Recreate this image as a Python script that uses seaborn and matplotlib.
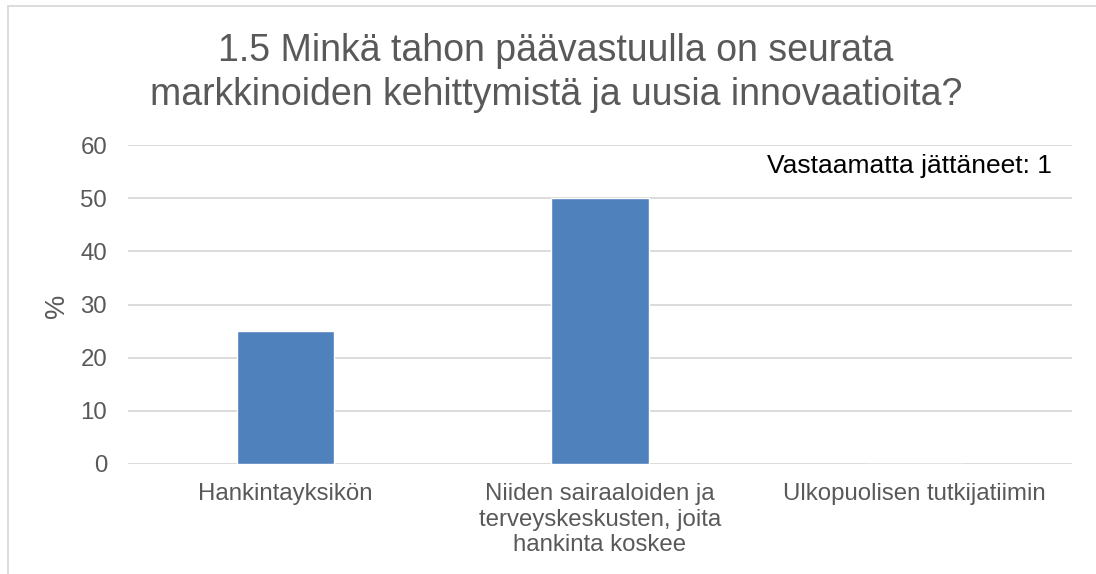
import matplotlib
matplotlib.use("Agg")
import matplotlib.pyplot as plt
import seaborn as sns
import pandas as pd
from matplotlib.lines import Line2D

categories = ["Hankintayksikön",
              "Niiden sairaaloiden ja\nterveyskeskusten, joita\nhankinta koskee",
              "Ulkopuolisen tutkijatiimin"]
values = [25, 50, 0]
y_ticks = [0, 10, 20, 30, 40, 50, 60]
title = "1.5 Minkä tahon päävastuulla on seurata\nmarkkinoiden kehittymistä ja uusia innovaatioita?"
note = "Vastaamatta jättäneet: 1"
y_label = "%"

sns.set_theme(style="white")
plt.rcParams['font.family'] = ['Liberation Sans', 'DejaVu Sans']

W, H = 1096, 574
fig = plt.figure(figsize=(W / 100, H / 100), dpi=100)
fig.subplots_adjust(left=128 / W, right=1072 / W, top=1 - 145 / H, bottom=1 - 464 / H)
ax = fig.add_subplot(111)

df = pd.DataFrame({"cat": categories, "val": values})
sns.barplot(data=df, x="cat", y="val", color="#4F81BD", width=0.31,
            saturation=1, ax=ax, zorder=3)

ax.set_ylim(0, 60)
ax.set_yticks(y_ticks)
ax.set_xlim(-0.5, 2.5)
ax.yaxis.grid(True, color="#D9D9D9", linewidth=1.3, zorder=0)
ax.xaxis.grid(False)
for s in ax.spines.values():
    s.set_visible(False)
ax.tick_params(axis="both", length=0, labelsize=17.3, labelcolor="#595959")
ax.tick_params(axis="y", pad=15)
ax.tick_params(axis="x", pad=14)
ax.set_xlabel("")
ax.set_ylabel(y_label, fontsize=19.5, color="#595959")
ax.yaxis.label.set_va("center")
ax.yaxis.set_label_coords((57 - 128) / 944, (464 - 306) / 319)

ax.text(0.979, 0.935, note, transform=ax.transAxes, ha="right", va="center",
        fontsize=19, color="#000000")

fig.text(556 / W, 1 - 73 / H, title, ha="center", va="center",
         fontsize=27, color="#595959", linespacing=1.3)

# outer chart frame (left and top edges visible)
fig.add_artist(Line2D([8 / W, 8 / W], [0, 1 - 6 / H], transform=fig.transFigure,
                      color="#D9D9D9", linewidth=1.3))
fig.add_artist(Line2D([8 / W, 1], [1 - 6 / H, 1 - 6 / H], transform=fig.transFigure,
                      color="#D9D9D9", linewidth=1.3))

fig.savefig("out.png", dpi=100)
